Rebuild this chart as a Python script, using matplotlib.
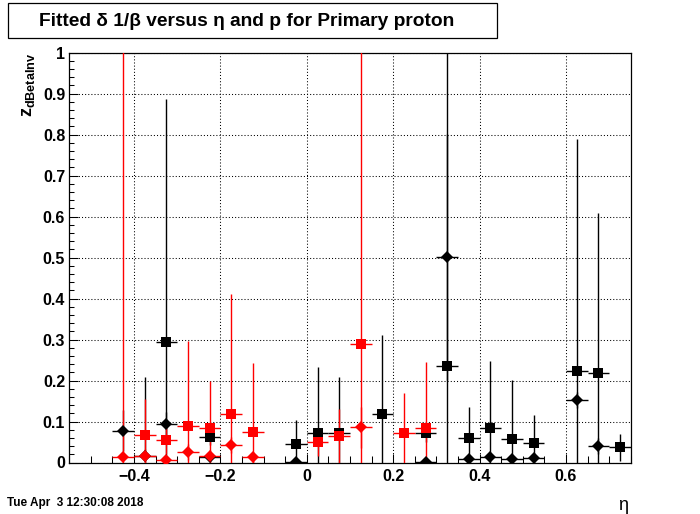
import matplotlib
matplotlib.use("Agg")
import matplotlib.pyplot as plt
from matplotlib.ticker import MultipleLocator
from matplotlib.patches import Rectangle
import numpy as np

plt.rcParams['font.family'] = ['Liberation Sans', 'DejaVu Sans']
plt.rcParams['mathtext.fontset'] = 'custom'
plt.rcParams['mathtext.bf'] = 'Liberation Sans:bold'
plt.rcParams['mathtext.rm'] = 'Liberation Sans'

# ---- data (eta bin centres, values, vertical errors) ----
bin_half_width = 0.025

blk_dia_eta = [-0.425, -0.375, -0.325, -0.225, -0.025, 0.275, 0.325, 0.375, 0.425, 0.475, 0.525, 0.625, 0.675]
blk_dia_val = [0.077, 0.017, 0.094, 0.013, 0.001, 0.001, 0.501, 0.009, 0.014, 0.009, 0.012, 0.153, 0.041]
blk_dia_err = [0.05, 0.192, 0.03, 0.01, 0.01, 0.01, 0.30, 0.01, 0.01, 0.01, 0.01, 0.02, 0.02]

blk_sq_eta = [-0.325, -0.225, -0.025, 0.025, 0.075, 0.175, 0.275, 0.325, 0.375, 0.425, 0.475, 0.525, 0.625, 0.675, 0.725]
blk_sq_val = [0.293, 0.063, 0.045, 0.071, 0.071, 0.118, 0.071, 0.235, 0.061, 0.083, 0.057, 0.047, 0.224, 0.218, 0.037]
blk_sq_err = [0.594, 0.02, 0.059, 0.161, 0.137, 0.193, 0.02, 0.85, 0.074, 0.165, 0.144, 0.069, 0.565, 0.392, 0.033]

red_sq_eta = [-0.375, -0.325, -0.275, -0.225, -0.175, -0.125, 0.025, 0.075, 0.125, 0.225, 0.275]
red_sq_val = [0.066, 0.055, 0.089, 0.083, 0.118, 0.074, 0.049, 0.065, 0.288, 0.071, 0.083]
red_sq_err = [0.089, 0.035, 0.207, 0.116, 0.292, 0.169, 0.034, 0.065, 0.80, 0.099, 0.162]

red_dia_eta = [-0.425, -0.375, -0.325, -0.275, -0.225, -0.175, -0.125, 0.125]
red_dia_val = [0.013, 0.017, 0.006, 0.026, 0.016, 0.042, 0.013, 0.086]
red_dia_err = [1.0, 0.015, 0.006, 0.02, 0.015, 0.02, 0.013, 0.05]

title_text = "Fitted \u03b4 1/\u03b2 versus \u03b7 and p for Primary proton"
date_text = "Tue Apr  3 12:30:08 2018"
x_label = "\u03b7"
y_label = r"$\mathbf{z}_{\mathbf{dBetaInv}}$"

W, H = 700, 514
fig = plt.figure(figsize=(W / 100, H / 100), dpi=100)
ax = fig.add_axes([69.3 / W, 1 - 462.5 / H, (630.7 - 69.3) / W, (462.5 - 52.7) / H])

ax.set_xlim(-0.55, 0.75)
ax.set_ylim(0, 1)

lw = 1.0
def draw(eta, val, err, color, marker, ms):
    ax.errorbar(eta, val, yerr=err, xerr=bin_half_width, fmt=marker, color=color,
                ecolor=color, elinewidth=lw, capsize=0, markersize=ms,
                markeredgewidth=0, zorder=3)

draw(blk_dia_eta, blk_dia_val, blk_dia_err, 'black', 'D', 6.4)
draw(blk_sq_eta, blk_sq_val, blk_sq_err, 'black', 's', 6.8)
draw(red_sq_eta, red_sq_val, red_sq_err, 'red', 's', 6.8)
draw(red_dia_eta, red_dia_val, red_dia_err, 'red', 'D', 6.4)

ax.xaxis.set_major_locator(MultipleLocator(0.2))
ax.xaxis.set_minor_locator(MultipleLocator(0.05))
ax.yaxis.set_major_locator(MultipleLocator(0.1))
ax.yaxis.set_minor_locator(MultipleLocator(0.02))

ax.grid(True, which='major', linestyle=(0, (1, 2)), color='black', linewidth=0.75)
ax.set_axisbelow(True)

ax.tick_params(axis='both', which='both', direction='in', top=False, right=False,
               width=0.75, colors='black')
ax.tick_params(axis='x', which='major', length=6.5, pad=4.5, labelsize=11.5)
ax.tick_params(axis='x', which='minor', length=5.0)
ax.tick_params(axis='y', which='major', length=6.5, pad=3, labelsize=11.5)
ax.tick_params(axis='y', which='minor', length=3.6)

def fmt(v, pos):
    s = f"{v:.1f}"
    if s in ("-0.0", "0.0"):
        return "0"
    if s == "1.0":
        return "1"
    return s.replace("-", "\u2212")
ax.xaxis.set_major_formatter(plt.FuncFormatter(fmt))
ax.yaxis.set_major_formatter(plt.FuncFormatter(fmt))
for lab in ax.get_xticklabels() + ax.get_yticklabels():
    lab.set_fontweight('bold')

for sp in ax.spines.values():
    sp.set_linewidth(0.9)
    sp.set_color('black')

# title box
fig.patches.append(Rectangle((8 / W, 1 - 38 / H), (497 - 8) / W, 35 / H,
                             transform=fig.transFigure, facecolor='white',
                             edgecolor='black', linewidth=0.9))
fig.text(247 / W, 1 - 21 / H, title_text, ha='center', va='center',
         fontsize=13.8, fontweight='bold')

fig.text(7 / W, 1 - 503 / H, date_text, ha='left', va='center', fontsize=8.5,
         fontweight='bold')
fig.text(628 / W, 1 - 505 / H, x_label, ha='right', va='center', fontsize=13)
fig.text(29 / W, 1 - 53 / H, y_label, ha='center', va='top', rotation=90, fontsize=13)

fig.savefig("out.png", dpi=100)
